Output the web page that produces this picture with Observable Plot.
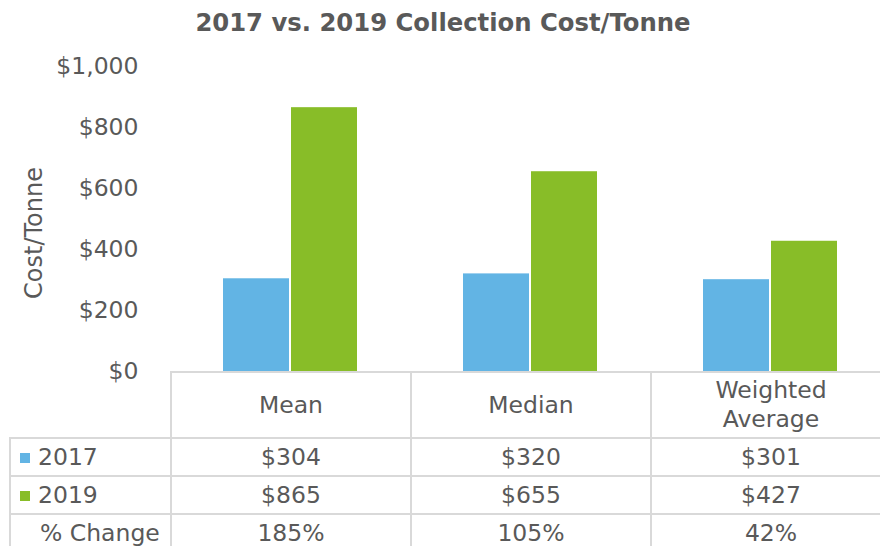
<!DOCTYPE html>
<html>
<head>
<meta charset="utf-8">
<script src="https://cdn.jsdelivr.net/npm/d3@7"></script>
<script src="https://cdn.jsdelivr.net/npm/@observablehq/plot@0.6"></script>
<style>
  html, body { margin: 0; padding: 0; background: #fff; overflow: hidden; width: 880px; height: 546px; }
  #wrap { position: relative; width: 880px; height: 546px; overflow: hidden; font-family: "DejaVu Sans", Verdana, sans-serif; color: #595959; }
  #title { position: absolute; top: 9px; left: 3px; width: 880px; text-align: center; font-weight: bold; font-size: 24.3px; line-height: 28px; }
  #chart { position: absolute; top: 40px; left: 0; width: 890px; }
  #chart svg { overflow: visible; max-width: none !important; }
  table { position: absolute; top: 371px; left: 9px; width: 883px; border-collapse: collapse; table-layout: fixed; font-size: 23.5px; color: #595959; }
  td { border: 2px solid #d9d9d9; text-align: center; padding: 0; white-space: nowrap; }
  tr.hdr td { height: 64px; line-height: 29px; }
  tr.row td { height: 36px; line-height: 36px; }
  td.lab { text-align: left; }
  td.blank { border-top: none; border-left: none; }
  .sw { display: inline-block; width: 10px; height: 10px; margin: 0 8px 0 9px; vertical-align: 2px; }
</style>
</head>
<body>
<div id="wrap">
  <div id="title"></div>
  <div id="chart"></div>
  <table id="tbl"></table>
</div>
<script>
const categories = ["Mean", "Median", "Weighted Average"];
const headerLines = [["Mean"], ["Median"], ["Weighted", "Average"]];
const years = ["2017", "2019"];
const values2017 = [304, 320, 301];
const values2019 = [865, 655, 427];
const pctChange = ["185%", "105%", "42%"];
const yTicks = [0, 200, 400, 600, 800, 1000];
const colors = ["#62b4e4", "#88bd28"];
const titleText = "2017 vs. 2019 Collection Cost/Tonne";
const yLabel = "Cost/Tonne";
const changeLabel = "% Change";

document.getElementById("title").textContent = titleText;

const data = [];
categories.forEach((c, i) => {
  data.push({category: c, year: years[0], value: values2017[i]});
  data.push({category: c, year: years[1], value: values2019[i]});
});

const fmt = d => "$" + d3.format(",")(d);

const chart = Plot.plot({
  width: 890,
  height: 332,
  marginLeft: 170,
  marginRight: 0,
  marginTop: 26,
  marginBottom: 1,
  style: {fontSize: "23.5px", fontFamily: "DejaVu Sans, Verdana, sans-serif", color: "#595959", background: "transparent", maxWidth: "none"},
  fx: {domain: categories, padding: 0, axis: null},
  x: {domain: years, paddingInner: 0.035, paddingOuter: 0.76, axis: null},
  y: {domain: [0, 1000], ticks: yTicks, tickFormat: fmt, tickSize: 0, tickPadding: 32, label: null},
  color: {domain: years, range: colors},
  marks: [
    Plot.barY(data, {fx: "category", x: "year", y: "value", fill: "year", inset: 0}),
    Plot.text([yLabel], {facetAnchor: "left", fx: null, frameAnchor: "left", rotate: -90, dx: -136, dy: 14,
      text: d => d, fontSize: 24, fill: "#595959", textAnchor: "middle"})
  ]
});
document.getElementById("chart").appendChild(chart);

// data table
const tbl = document.getElementById("tbl");
const colg = document.createElement("colgroup");
[161, 240, 240, 240].forEach(w => { const c = document.createElement("col"); c.style.width = w + "px"; colg.appendChild(c); });
tbl.appendChild(colg);

const hdr = document.createElement("tr");
hdr.className = "hdr";
const blank = document.createElement("td");
blank.className = "blank";
hdr.appendChild(blank);
headerLines.forEach(lines => {
  const td = document.createElement("td");
  lines.forEach((l, k) => { if (k) td.appendChild(document.createElement("br")); td.appendChild(document.createTextNode(l)); });
  hdr.appendChild(td);
});
tbl.appendChild(hdr);

const rows = [
  {label: years[0], color: colors[0], cells: values2017.map(fmt)},
  {label: years[1], color: colors[1], cells: values2019.map(fmt)},
  {label: changeLabel, color: null, cells: pctChange}
];
rows.forEach(r => {
  const tr = document.createElement("tr");
  tr.className = "row";
  const lab = document.createElement("td");
  lab.className = "lab";
  if (r.color) {
    const sw = document.createElement("span");
    sw.className = "sw";
    sw.style.background = r.color;
    lab.appendChild(sw);
    lab.appendChild(document.createTextNode(r.label));
  } else {
    lab.style.paddingLeft = "29px";
    lab.appendChild(document.createTextNode(r.label));
  }
  tr.appendChild(lab);
  r.cells.forEach(v => { const td = document.createElement("td"); td.textContent = v; tr.appendChild(td); });
  tbl.appendChild(tr);
});
</script>
</body>
</html>
